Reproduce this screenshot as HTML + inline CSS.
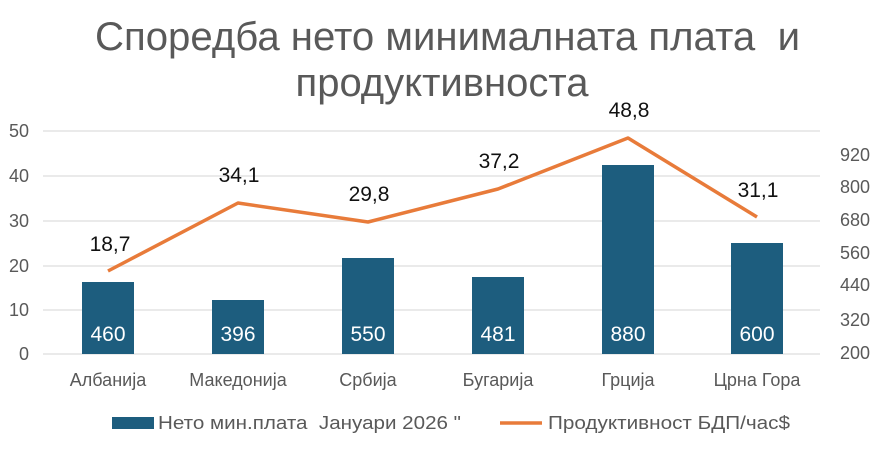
<!DOCTYPE html>
<html><head><meta charset="utf-8"><style>
body{margin:0;background:#fff;}
svg text{font-family:"Liberation Sans",sans-serif;}
</style></head><body>
<svg width="885" height="451" viewBox="0 0 885 451" xmlns="http://www.w3.org/2000/svg">
<rect width="885" height="451" fill="#fff"/>
<text x="95" y="50" font-size="40" fill="#595959" textLength="705" lengthAdjust="spacingAndGlyphs" xml:space="preserve">Споредба нето минималната плата  и</text>
<text x="442" y="96" text-anchor="middle" font-size="40" fill="#595959">продуктивноста</text>
<g stroke="#e3e3e3" stroke-width="1.5">
<line x1="43" x2="820" y1="131" y2="131"/><line x1="43" x2="820" y1="176" y2="176"/>
<line x1="43" x2="820" y1="221" y2="221"/><line x1="43" x2="820" y1="266" y2="266"/>
<line x1="43" x2="820" y1="310" y2="310"/><line x1="43" x2="820" y1="354" y2="354"/>
</g>
<g font-size="18" fill="#595959">
<text x="29" y="137" text-anchor="end">50</text><text x="29" y="182" text-anchor="end">40</text>
<text x="29" y="227" text-anchor="end">30</text><text x="29" y="272" text-anchor="end">20</text>
<text x="29" y="316" text-anchor="end">10</text><text x="29" y="360" text-anchor="end">0</text>
<text x="840" y="161">920</text><text x="840" y="193">800</text><text x="840" y="226">680</text>
<text x="840" y="259">560</text><text x="840" y="291">440</text><text x="840" y="326">320</text>
<text x="840" y="359">200</text>
</g>
<g fill="#1d5d7e">
<rect x="82" y="282" width="52" height="72"/><rect x="212" y="300" width="52" height="54"/>
<rect x="342" y="258" width="52" height="96"/><rect x="472" y="277" width="52" height="77"/>
<rect x="602" y="165" width="52" height="189"/><rect x="731" y="243" width="52" height="111"/>
</g>
<g font-size="21" fill="#fff" text-anchor="middle">
<text x="108" y="341">460</text><text x="238" y="341">396</text><text x="368" y="341">550</text>
<text x="498" y="341">481</text><text x="628" y="341">880</text><text x="757" y="341">600</text>
</g>
<polyline points="108,271 238,203 368,222 498,189 628,138 757,217" fill="none" stroke="#e87b3a" stroke-width="3.5" stroke-linejoin="round"/>
<g font-size="21" fill="#111" text-anchor="middle">
<text x="110" y="251">18,7</text><text x="239" y="182">34,1</text><text x="369" y="201">29,8</text>
<text x="499" y="168">37,2</text><text x="629" y="117">48,8</text><text x="758" y="197">31,1</text>
</g>
<g font-size="18" fill="#595959" text-anchor="middle">
<text x="108" y="386">Албанија</text><text x="238" y="386">Македонија</text><text x="368" y="386">Србија</text>
<text x="498" y="386">Бугарија</text><text x="628" y="386">Грција</text><text x="757" y="386">Црна Гора</text>
</g>
<rect x="112" y="417" width="42" height="12" fill="#1d5d7e"/>
<text x="158" y="429" font-size="18" fill="#595959" textLength="303" lengthAdjust="spacingAndGlyphs" xml:space="preserve">Нето мин.плата  Јануари 2026 "</text>
<line x1="500" x2="542" y1="423" y2="423" stroke="#e87b3a" stroke-width="3.5"/>
<text x="548" y="429" font-size="18" fill="#595959" textLength="242" lengthAdjust="spacingAndGlyphs">Продуктивност БДП/час$</text>
</svg>
</body></html>
